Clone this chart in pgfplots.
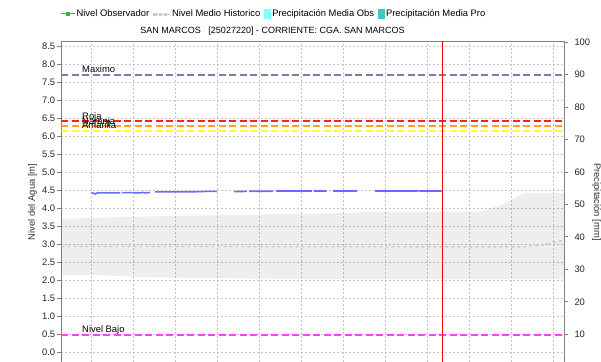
\documentclass[border=0pt]{standalone}
\usepackage{fontspec}
\setmainfont{Liberation Sans}
\usepackage{pgfplots}
\pgfplotsset{compat=1.18}
\definecolor{gridc}{HTML}{C4C4C4}
\definecolor{axc}{HTML}{808080}
\definecolor{maxc}{HTML}{7382A8}
\definecolor{rojac}{HTML}{FF2020}
\definecolor{naranjac}{HTML}{FFA030}
\definecolor{amarillac}{HTML}{FFFF33}
\definecolor{bajoc}{HTML}{FF40FF}
\definecolor{nivelc}{HTML}{6A6AFF}
\definecolor{histmean}{rgb}{0.80,0.80,0.80}
\definecolor{obsc}{HTML}{7FFFFF}
\definecolor{proc}{HTML}{40C8C8}
\definecolor{greenc}{HTML}{33BB33}
\newcommand{\f}{\fontsize{9.4}{11}\selectfont}

% historical band (top forward, bottom backward), water level in m
\pgfplotstableread{
x y
-5.033 3.70
0.25 3.74
7.25 3.77
13.9 3.79
24.75 3.82
34.75 3.85
42.25 3.87
48.1 3.91
64.75 3.91
68.5 4.10
71.9 4.42
78.8 4.42
78.8 2.03
34.75 2.04
24.75 2.06
13.9 2.08
7.25 2.10
4.0 2.13
0.25 2.15
-5.033 2.15
}\bandtable

\pgfplotstableread{
x y
-5.033 2.95
40 2.94
71.9 2.93
75 2.98
78.8 3.12
}\meantable

\pgfplotstableread{
x y
0 4.44
0.6 4.40
1 4.43
4.8 4.43
4.95 nan
5.1 4.435
7 4.435
8 4.43
8.6 4.44
9 4.43
9.75 4.44
10.2 nan
10.6 4.455
17 4.46
18.5 4.465
19 4.47
20.9 4.47
22 nan
23.75 4.465
25.9 4.47
26.1 nan
26.25 4.475
30.25 4.475
30.5 nan
30.75 4.48
36.75 4.48
36.9 nan
37.08 4.48
39.2 4.48
39.7 nan
40.25 4.48
44.25 4.48
45.5 nan
47.25 4.48
54 4.48
54.5 4.485
55 4.48
58.37 4.48
}\niveltable

\begin{document}
\begin{tikzpicture}
\path[use as bounding box] (0,0) rectangle (601pt,361pt);
\begin{axis}[
  at={(61.3pt,-1pt)}, anchor=south west,
  scale only axis, width=503pt, height=320pt,
  xmin=-5.033, xmax=78.8, ymin=-0.258, ymax=8.611,
  xtick={0,7,...,77}, xticklabels={}, xtick style={draw=none},
  ytick={0,0.5,...,8.5}, ytick pos=left,
  tick align=outside, major tick length=4pt,
  ytick style={axc, line width=0.8pt},
  axis line style={axc, line width=1pt},
  grid=major,
  major grid style={gridc, dash pattern=on 2pt off 2pt, line width=0.9pt},
  unbounded coords=jump,
  yticklabel style={font=\f, text=black!85, inner xsep=0pt, xshift=-2pt,
    /pgf/number format/.cd, fixed, fixed zerofill, precision=1, assume math mode=true},
  every axis y label/.style={at={(axis description cs:-0.0573,0.5)}, rotate=90, anchor=center, font=\f, text=black!80},
  ylabel={Nivel del Agua [m]},
  every axis title shift=0pt,
  title={SAN MARCOS\ \ \ [25027220] - CORRIENTE: CGA. SAN MARCOS},
  title style={at={(axis description cs:0.4199,1.0344)}, anchor=center, font=\fontsize{9.0}{11}\selectfont, inner sep=0pt},
  legend style={at={(axis description cs:0.4209,1.0875)}, anchor=center, draw=none, fill=none,
    font=\f, legend columns=4, inner sep=0pt,
    /tikz/every odd column/.append style={column sep=1.5pt},
    /tikz/every even column/.append style={column sep=4pt},
    nodes={inner xsep=0pt, inner ysep=1pt}},
  legend cell align=left,
]
% legend
\addlegendimage{legend image code/.code={
  \draw[greenc, line width=1pt] (0pt,0pt) -- (13.4pt,0pt);
  \fill[greenc] (5.2pt,-1.5pt) rectangle (8.2pt,1.5pt);}}
\addlegendentry{Nivel Observador}
\addlegendimage{histmean, legend image code/.code={
  \fill[histmean] (0pt,-0.8pt) rectangle (2.5pt,0.8pt);
  \fill[histmean] (5.3pt,-0.8pt) rectangle (7.8pt,0.8pt);
  \fill[histmean] (10.6pt,-0.8pt) rectangle (13.1pt,0.8pt);
  \path (0pt,0pt) -- (17pt,0pt);}}
\addlegendentry{Nivel Medio Historico}
\addlegendimage{legend image code/.code={
  \fill[obsc] (0pt,-4.7pt) rectangle (6pt,4.7pt);}}
\addlegendentry{Precipitación Media Obs}
\addlegendimage{legend image code/.code={
  \fill[proc] (0pt,-4.7pt) rectangle (6pt,4.7pt);}}
\addlegendentry{Precipitación Media Pro}

% band
\addplot[forget plot, draw=none, fill=black, fill opacity=0.065] table {\bandtable} -- cycle;
% historical mean
\addplot[forget plot, histmean, line width=1.5pt, dash pattern=on 3pt off 3pt] table {\meantable};
% thresholds
\addplot[forget plot, maxc, line width=2pt, dash pattern=on 7pt off 3.5pt] coordinates {(-5.033,7.71) (78.8,7.71)};
\addplot[forget plot, rojac, line width=2pt, dash pattern=on 7pt off 3.5pt] coordinates {(-5.033,6.42) (78.8,6.42)};
\addplot[forget plot, naranjac, line width=2pt, dash pattern=on 7pt off 3.5pt] coordinates {(-5.033,6.28) (78.8,6.28)};
\addplot[forget plot, amarillac, line width=2pt, dash pattern=on 7pt off 3.5pt] coordinates {(-5.033,6.15) (78.8,6.15)};
\addplot[forget plot, bajoc, line width=2pt, dash pattern=on 7pt off 3.5pt] coordinates {(-5.033,0.50) (78.8,0.50)};
% observed level
\addplot[forget plot, nivelc, line width=1.6pt] table {\niveltable};
% current date
\addplot[forget plot, red, line width=1pt] coordinates {(58.47,-0.3) (58.47,8.7)};
% threshold labels
\node[anchor=base west, inner sep=0pt, font=\f, yshift=2pt] at (axis cs:-1.58,7.71) {Maximo};
\node[anchor=base west, inner sep=0pt, font=\f, yshift=2pt] at (axis cs:-1.58,6.42) {Roja};
\node[anchor=base west, inner sep=0pt, font=\f, yshift=2pt] at (axis cs:-1.58,6.28) {Naranja};
\node[anchor=base west, inner sep=0pt, font=\f, yshift=2pt] at (axis cs:-1.58,6.15) {Amarilla};
\node[anchor=base west, inner sep=0pt, font=\f, yshift=2pt] at (axis cs:-1.58,0.50) {Nivel Bajo};
\end{axis}
\begin{axis}[
  at={(61.3pt,-1pt)}, anchor=south west,
  scale only axis, width=503pt, height=320pt,
  xmin=-5.033, xmax=78.8, ymin=1.48, ymax=100,
  axis x line=none, axis y line*=right,
  ytick={10,20,...,100},
  tick align=outside, major tick length=4pt,
  ytick style={axc, line width=0.8pt},
  axis line style={axc, line width=1pt},
  yticklabel style={font=\f, text=black!85, inner xsep=0pt, xshift=6pt,
    /pgf/number format/assume math mode=true},
  every axis y label/.style={at={(axis description cs:1.064,0.5)}, rotate=-90, anchor=center, font=\f, text=black!80},
  ylabel={Precipitación [mm]},
]
\end{axis}
\end{tikzpicture}
\end{document}
